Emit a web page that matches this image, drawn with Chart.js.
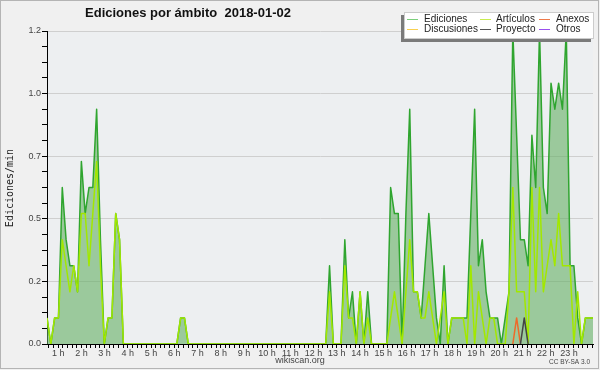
<!DOCTYPE html>
<html>
<head>
<meta charset="utf-8">
<script src="https://cdn.jsdelivr.net/npm/chart.js@4/dist/chart.umd.min.js"></script>
<style>
  html, body { margin: 0; padding: 0; background: #f0f0f0; }
</style>
</head>
<body>
<canvas id="canva" width="600" height="370"></canvas>
<script>
// 10-minute bins, 00:00 .. 23:50 (edits per minute)
const ediciones = [
  0.1, 0, 0.1, 0.1, 0.6, 0.4, 0.3, 0.3, 0.2, 0.7, 0.5, 0.6, 0.6, 0.9, 0.4, 0, 0.1, 0.1, 0.5, 0.4,
  0, 0, 0, 0, 0, 0, 0, 0, 0, 0, 0, 0, 0, 0, 0, 0.1, 0.1, 0, 0, 0,
  0, 0, 0, 0, 0, 0, 0, 0, 0, 0, 0, 0, 0, 0, 0, 0, 0, 0, 0, 0,
  0, 0, 0, 0, 0, 0, 0, 0, 0, 0, 0, 0, 0, 0, 0.3, 0, 0, 0, 0.4, 0.1,
  0.2, 0, 0.2, 0, 0.2, 0, 0, 0, 0, 0, 0.6, 0.5, 0.5, 0, 0.5, 0.9, 0.2, 0.2, 0.1, 0.3,
  0.5, 0.3, 0.1, 0, 0.3, 0, 0.1, 0.1, 0.1, 0.1, 0.1, 0.5, 0.9, 0.3, 0.4, 0.2, 0.1, 0.1, 0.1, 0,
  0.1, 0.2, 1.2, 0.8, 0.4, 0.4, 0.3, 0.8, 0.6, 1.2, 0.6, 0.5, 1.0, 0.9, 1.0, 0.9, 1.2, 0.3, 0.3, 0.1,
  0, 0.1, 0.1, 0.1
];
const articulos = [
  0.1, 0, 0.1, 0.1, 0.4, 0.3, 0.2, 0.3, 0.2, 0.5, 0.5, 0.3, 0.5, 0.7, 0.3, 0, 0.1, 0.1, 0.5, 0.4,
  0, 0, 0, 0, 0, 0, 0, 0, 0, 0, 0, 0, 0, 0, 0, 0.1, 0.1, 0, 0, 0,
  0, 0, 0, 0, 0, 0, 0, 0, 0, 0, 0, 0, 0, 0, 0, 0, 0, 0, 0, 0,
  0, 0, 0, 0, 0, 0, 0, 0, 0, 0, 0, 0, 0, 0, 0.2, 0, 0, 0, 0.3, 0.1,
  0.1, 0, 0.2, 0, 0.1, 0, 0, 0, 0, 0, 0.1, 0.2, 0.1, 0, 0.2, 0.4, 0.2, 0.2, 0.1, 0.1,
  0.2, 0.1, 0, 0.1, 0.2, 0, 0.1, 0.1, 0.1, 0.1, 0, 0.3, 0, 0.2, 0.1, 0, 0.1, 0.1, 0, 0,
  0, 0.2, 0.6, 0.2, 0.2, 0.2, 0, 0.6, 0.2, 0.6, 0.2, 0.3, 0.4, 0.3, 0.5, 0.3, 0.3, 0.3, 0, 0.2,
  0, 0.1, 0.1, 0.1
];
// sparse series: bin index / value
const anexosBins = [122, 123, 124];
const anexos = [0, 0.1, 0];
const proyectoBins = [124, 125, 126];
const proyecto = [0, 0.1, 0];

const hourLabels = ["1 h","2 h","3 h","4 h","5 h","6 h","7 h","8 h","9 h","10 h","11 h","12 h",
  "13 h","14 h","15 h","16 h","17 h","18 h","19 h","20 h","21 h","22 h","23 h"];
const yTickLabels = ["0.0", "0.2", "0.5", "0.7", "1.0", "1.2"];
const yMax = 1.2;

const legendItems = [
  ["Ediciones", "#7ccf7c"], ["Artículos", "#c8ec50"], ["Anexos", "#ee7a4a"],
  ["Discusiones", "#f8d050"], ["Proyecto", "#555555"], ["Otros", "#9a50ee"]
];

const toPoints = (vals) => vals.map((v, i) => ({ x: i, y: v }));
const toSparse = (bins, vals) => bins.map((b, i) => ({ x: b, y: vals[i] }));

// x ticks: hour labels plus 4 minor ticks between them
const xTicks = [];
const xTickText = [];
for (let m = -2; ; m++) {
  const v = 2.93 + m * 1.216;
  if (v > 143) break;
  if (v < 0) continue;
  xTicks.push(v);
  xTickText.push(m >= 0 && m % 5 === 0 ? hourLabels[m / 5] || "" : "");
}
const yTicks = [];
for (let k = 0; k <= 20; k++) yTicks.push(k * 0.06);

const decor = {
  id: "decor",
  beforeDraw(chart) {
    const c = chart.ctx;
    const a = chart.chartArea;
    c.save();
    c.fillStyle = "#f0f0f0";
    c.fillRect(0, 0, 600, 370);
    c.strokeStyle = "#b4b4b4";
    c.lineWidth = 1;
    c.strokeRect(0.5, 0.5, 598, 368);
    c.fillStyle = "#edeff1";
    c.fillRect(a.left, a.top, a.right - a.left, a.bottom - a.top);
    c.restore();
  },
  afterDraw(chart) {
    const c = chart.ctx;
    c.save();
    // title
    c.fillStyle = "#111";
    c.font = "bold 13px 'Liberation Sans'";
    c.textAlign = "center";
    c.textBaseline = "middle";
    c.fillText("Ediciones por ámbito  2018-01-02", 188, 13.5);
    // axis title
    c.save();
    c.translate(10, 188);
    c.rotate(-Math.PI / 2);
    c.font = "10px 'DejaVu Sans Mono'";
    c.fillStyle = "#222";
    c.fillText("Ediciones/min", 0, 0);
    c.restore();
    // footer
    c.font = "9px 'Liberation Sans'";
    c.fillStyle = "#444";
    c.fillText("wikiscan.org", 300, 361);
    c.font = "6.5px 'Liberation Sans'";
    c.textAlign = "right";
    c.fillText("CC BY-SA 3.0", 590, 362);
    // legend box
    c.fillStyle = "#7a7a7a";
    c.fillRect(401, 15, 190, 27);
    c.fillStyle = "#ffffff";
    c.fillRect(404, 12, 190, 27);
    c.strokeStyle = "#cccccc";
    c.strokeRect(404.5, 12.5, 189, 26);
    const lineX = [407, 480, 539];
    const textX = [424, 496, 556];
    const rowY = [19.5, 29.5];
    c.font = "10px 'Liberation Sans'";
    c.textAlign = "left";
    c.textBaseline = "middle";
    legendItems.forEach(([name, col], i) => {
      const r = Math.floor(i / 3), k = i % 3;
      c.strokeStyle = col;
      c.lineWidth = 1;
      c.beginPath();
      c.moveTo(lineX[k], rowY[r]);
      c.lineTo(lineX[k] + 11, rowY[r]);
      c.stroke();
      c.fillStyle = "#222";
      c.fillText(name, textX[k], rowY[r]);
    });
    c.restore();
  }
};

new Chart(document.getElementById("canva").getContext("2d"), {
  type: "line",
  data: {
    datasets: [
      {
        label: "Ediciones",
        data: toPoints(ediciones),
        borderColor: "#2fa52f",
        backgroundColor: "rgba(100,175,100,0.6)",
        borderWidth: 1.5,
        fill: "origin",
        order: 4,
      },
      {
        label: "Artículos",
        data: toPoints(articulos),
        borderColor: "#a2e800",
        borderWidth: 1.5,
        fill: false,
        order: 3,
      },
      {
        label: "Anexos",
        data: toSparse(anexosBins, anexos),
        borderColor: "#ee6a2a",
        borderWidth: 1.5,
        fill: false,
        order: 2,
      },
      {
        label: "Proyecto",
        data: toSparse(proyectoBins, proyecto),
        borderColor: "#444444",
        borderWidth: 1.5,
        fill: false,
        order: 1,
      },
    ],
  },
  options: {
    responsive: false,
    animation: false,
    devicePixelRatio: 1,
    layout: { padding: { top: 31, right: 7, bottom: 0, left: 0 } },
    elements: {
      point: { radius: 0 },
      line: { tension: 0, borderJoinStyle: "round" },
    },
    plugins: {
      legend: { display: false },
      tooltip: { enabled: false },
    },
    scales: {
      x: {
        type: "linear",
        min: 0,
        max: 143,
        z: 1,
        afterFit: (s) => { s.height = 26; },
        afterBuildTicks: (s) => { s.ticks = xTicks.map((v) => ({ value: v })); },
        grid: { drawOnChartArea: false, tickLength: 4, tickColor: "#000" },
        border: { color: "#000", width: 1 },
        ticks: {
          autoSkip: false,
          maxRotation: 0,
          minRotation: 0,
          padding: 0,
          color: "#444",
          font: { family: "Liberation Sans", size: 9 },
          callback: (v, i) => xTickText[i],
        },
      },
      y: {
        min: 0,
        max: yMax,
        afterFit: (s) => { s.width = 47; },
        afterBuildTicks: (s) => { s.ticks = yTicks.map((v) => ({ value: v })); },
        grid: {
          color: (ctx) => {
            const k = Math.round(ctx.tick.value / 0.06);
            return k > 0 && k % 4 === 0 ? "#cfcfcf" : "rgba(0,0,0,0)";
          },
          tickLength: 5,
          tickColor: "#000",
        },
        border: { color: "#000", width: 1 },
        ticks: {
          autoSkip: false,
          padding: 1,
          color: "#444",
          font: { family: "Liberation Sans", size: 9 },
          callback: (v, i) => (i % 4 === 0 ? yTickLabels[i / 4] : ""),
        },
      },
    },
  },
  plugins: [decor],
});
</script>
</body>
</html>
